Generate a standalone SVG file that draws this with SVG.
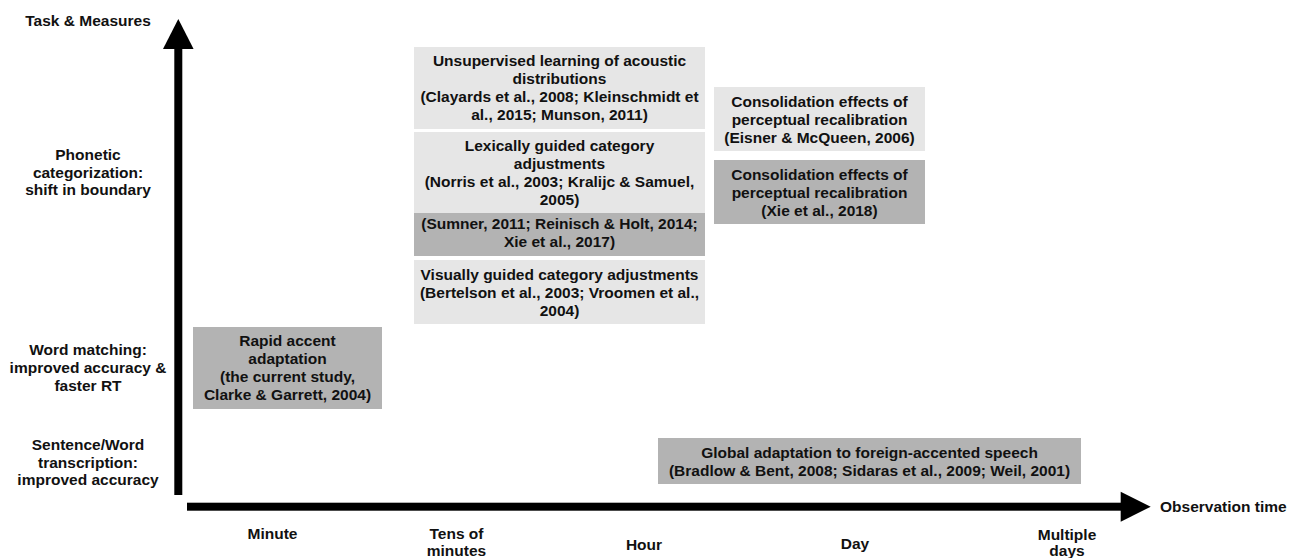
<svg xmlns="http://www.w3.org/2000/svg" width="1293" height="558" viewBox="0 0 1293 558">
<style>
text{font-family:"Liberation Sans",Arial,Helvetica,sans-serif;font-weight:bold;font-size:15.5px;fill:#111;text-anchor:middle}
.lt{fill:#e6e6e6}
.dk{fill:#b3b3b3}
.ax{fill:#000}
</style>
<rect width="1293" height="558" fill="#fff"/>
<g id="axes">
<rect class="ax" x="174.3" y="48" width="8" height="447"/>
<polygon class="ax" points="163,49 178.3,19 193.6,49"/>
<rect class="ax" x="187" y="502.7" width="935" height="8"/>
<polygon class="ax" points="1120.7,491.7 1150.7,506.7 1120.7,521.7"/>
</g>
<g id="y-labels">
<text x="88" y="26">Task &amp; Measures</text>
<text x="88" y="160">Phonetic</text>
<text x="88" y="177.5">categorization:</text>
<text x="88" y="195">shift in boundary</text>
<text x="88" y="355">Word matching:</text>
<text x="88" y="373">improved accuracy &amp;</text>
<text x="88" y="391">faster RT</text>
<text x="88" y="449.5">Sentence/Word</text>
<text x="88" y="467.5">transcription:</text>
<text x="88" y="485">improved accuracy</text>
</g>
<g id="x-labels">
<text x="272.5" y="539">Minute</text>
<text x="456.5" y="539">Tens of</text>
<text x="456.5" y="556">minutes</text>
<text x="644" y="550">Hour</text>
<text x="855" y="549">Day</text>
<text x="1067" y="539.5">Multiple</text>
<text x="1067" y="556">days</text>
<text x="1160" y="511.7" style="text-anchor:start">Observation time</text>
</g>
<g id="unsupervised">
<rect class="lt" x="414" y="47" width="291" height="82"/>
<text x="559.5" y="66">Unsupervised learning of acoustic</text>
<text x="559.5" y="84">distributions</text>
<text x="559.5" y="102">(Clayards et al., 2008; Kleinschmidt et</text>
<text x="559.5" y="120">al., 2015; Munson, 2011)</text>
</g>
<g id="lexically">
<rect class="lt" x="414" y="132" width="291" height="81"/>
<text x="559.5" y="150.5">Lexically guided category</text>
<text x="559.5" y="168.5">adjustments</text>
<text x="559.5" y="186.5">(Norris et al., 2003; Kralijc &amp; Samuel,</text>
<text x="559.5" y="204.5">2005)</text>
</g>
<g id="sumner">
<rect class="dk" x="414" y="213" width="291" height="43"/>
<text x="559.5" y="229">(Sumner, 2011; Reinisch &amp; Holt, 2014;</text>
<text x="559.5" y="247">Xie et al., 2017)</text>
</g>
<g id="visually">
<rect class="lt" x="414" y="260" width="291" height="64"/>
<text x="559.5" y="279.5">Visually guided category adjustments</text>
<text x="559.5" y="297.5">(Bertelson et al., 2003; Vroomen et al.,</text>
<text x="559.5" y="315.5">2004)</text>
</g>
<g id="consolidation-eisner">
<rect class="lt" x="714" y="87" width="211" height="64"/>
<text x="819.5" y="107">Consolidation effects of</text>
<text x="819.5" y="125">perceptual recalibration</text>
<text x="819.5" y="143">(Eisner &amp; McQueen, 2006)</text>
</g>
<g id="consolidation-xie">
<rect class="dk" x="714" y="160" width="211" height="64"/>
<text x="819.5" y="180">Consolidation effects of</text>
<text x="819.5" y="198">perceptual recalibration</text>
<text x="819.5" y="216">(Xie et al., 2018)</text>
</g>
<g id="rapid">
<rect class="dk" x="193" y="327" width="189" height="82"/>
<text x="287.5" y="346">Rapid accent</text>
<text x="287.5" y="364">adaptation</text>
<text x="287.5" y="382">(the current study,</text>
<text x="287.5" y="400">Clarke &amp; Garrett, 2004)</text>
</g>
<g id="global">
<rect class="dk" x="658" y="438" width="423" height="46"/>
<text x="869.5" y="457.5">Global adaptation to foreign-accented speech</text>
<text x="869.5" y="475.5">(Bradlow &amp; Bent, 2008; Sidaras et al., 2009; Weil, 2001)</text>
</g>
</svg>
